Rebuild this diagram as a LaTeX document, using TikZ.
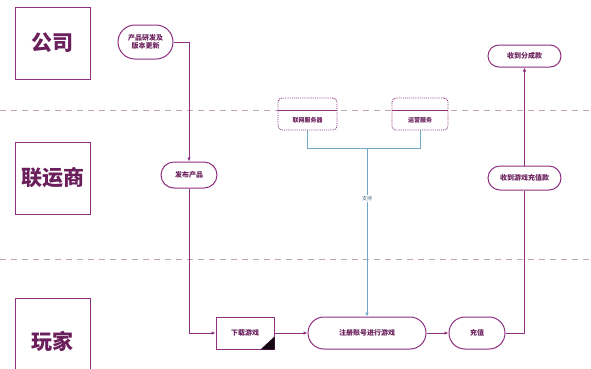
\documentclass[tikz,border=0pt]{standalone}
\usepackage{fontspec}
\newfontfamily\cjk{Noto Sans CJK SC}
\usetikzlibrary{arrows.meta,shapes.misc}
\definecolor{pline}{HTML}{8E2F80}
\definecolor{ptext}{HTML}{6A1F5C}
\definecolor{lanec}{HTML}{BFA6B2}
\definecolor{bline}{HTML}{6FA8C8}
\begin{document}
\begin{tikzpicture}[x=1pt,y=-1pt,
  lanebox/.style={draw=pline, line width=1pt, minimum width=75pt, minimum height=72pt, inner sep=0pt,
    font=\cjk\bfseries\fontsize{21}{24}\selectfont, text=ptext},
  pill/.style={draw=pline, line width=1pt, fill=white, rounded rectangle, rounded rectangle arc length=180, inner sep=1pt,
    font=\cjk\bfseries\fontsize{7}{8.5}\selectfont, text=ptext, align=center},
  sqbox/.style={draw=pline, line width=1pt, fill=white, inner sep=1pt,
    font=\cjk\bfseries\fontsize{7}{8.5}\selectfont, text=ptext},
  svcbox/.style={draw=pline, line width=0.9pt, densely dotted, fill=white, rounded corners=4pt, inner sep=0pt},
  svctext/.style={font=\cjk\bfseries\fontsize{6}{7}\selectfont, text=ptext, inner sep=0pt},
  laneline/.style={draw=lanec, line width=0.6pt, dash pattern=on 6pt off 5pt},
  conn/.style={draw=pline, line width=0.9pt},
  arr/.style={conn, -{Latex[length=4pt,width=3.5pt]}},
  bl/.style={draw=bline, line width=0.7pt}
]
\useasboundingbox[fill=white] (0,0) rectangle (591,368);

% lane dividers
\draw[laneline] (0,110) -- (591,110);
\draw[laneline] (0,259) -- (591,259);

% lane labels
\node[lanebox] (gs) at (52.5,43) {公司};
\node[lanebox] (lys) at (52.5,178) {联运商};
\node[lanebox, minimum height=90pt] (wj) at (52.5,343) {\raisebox{5pt}{玩家}};

% nodes
\node[pill, minimum width=57pt, minimum height=34pt] (yf) at (145.5,42) {产品研发及\\版本更新};
\node[pill, minimum width=58pt, minimum height=26pt] (fb) at (189,175) {发布产品};
\node[sqbox, minimum width=58pt, minimum height=32pt] (xz) at (245,333) {下载游戏};
\node[pill, minimum width=120pt, minimum height=32pt] (zc) at (367,333) {注册账号进行游戏};
\node[pill, minimum width=58pt, minimum height=32pt] (cz) at (477,333) {充值};
\node[pill, minimum width=75pt, minimum height=22pt] (fc) at (524.5,56) {收到分成款};
\node[pill, minimum width=75pt, minimum height=24pt] (ck) at (524.5,178) {收到游戏充值款};

% corner mark of download box
\fill[black!85!pline] (xz.south east) -- ++(-14,0) -- ++(14,-13) -- cycle;

% service boxes
\node[svcbox, minimum width=59pt, minimum height=32pt] (lw) at (307.5,114) {};
\node[svcbox, minimum width=56pt, minimum height=32pt] (yy) at (420,114) {};
\draw[draw=pline, line width=0.9pt] (lw.west |- 0,110) -- (lw.east |- 0,110);
\draw[draw=pline, line width=0.9pt] (yy.west |- 0,110) -- (yy.east |- 0,110);
\node[svctext] (lwt) at ([yshift=-6pt]lw.center) {联网服务器};
\node[svctext] (yyt) at ([yshift=-6pt]yy.center) {运营服务};

% support connector
\coordinate (jm) at (zc.north |- 0,148);
\draw[bl] (lw.south) -- (lw.south |- 0,148) -| (yy.south);
\draw[bl, -{Latex[length=4pt,width=3.5pt]}] (jm) -- node[pos=0.3, fill=white, inner sep=1pt, font=\cjk\fontsize{5}{6}\selectfont, text=bline!60!black] {支持} (zc.north);

% flow
\draw[arr] (yf.east) -| (fb.north);
\draw[arr] (fb.south) |- (xz.west);
\draw[arr] (xz.east) -- (zc.west);
\draw[arr] (zc.east) -- (cz.west);
\draw[conn] (cz.east) -| (ck.south);
\draw[arr] (ck.north) -- (fc.south);
\end{tikzpicture}
\end{document}
